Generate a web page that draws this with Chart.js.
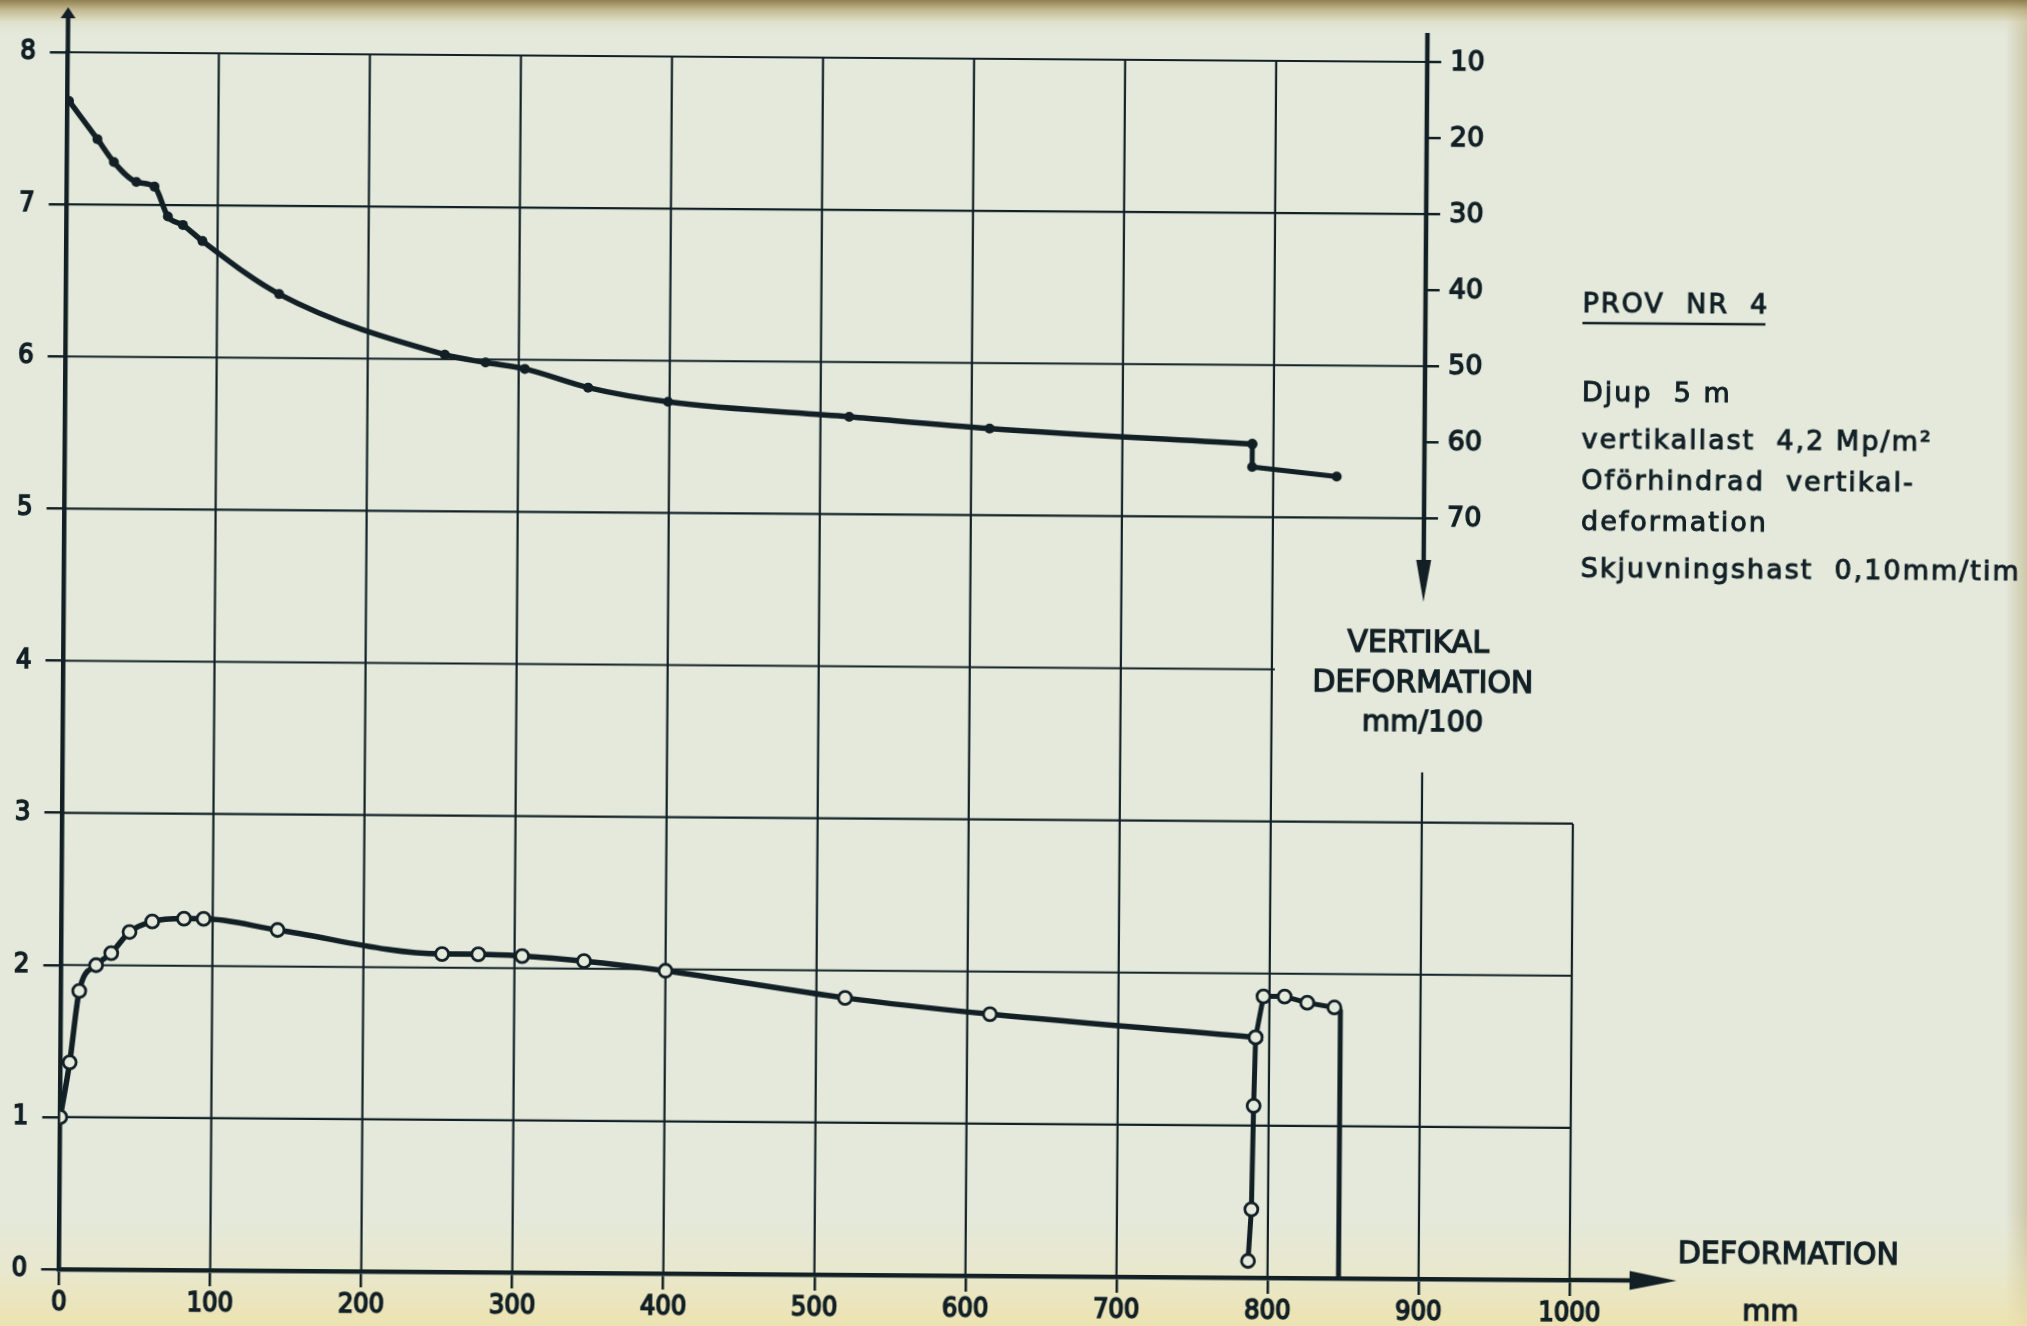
<!DOCTYPE html>
<html>
<head>
<meta charset="utf-8">
<script src="https://cdn.jsdelivr.net/npm/chart.js@4.4.1/dist/chart.umd.min.js"></script>
<style>
  html, body { margin: 0; padding: 0; overflow: hidden; }
  body {
    width: 2027px;
    height: 1326px;
    background:
      linear-gradient(to bottom, rgba(140,122,72,0.95) 0px, rgba(185,170,120,0.75) 10px, rgba(215,210,175,0.35) 22px, rgba(215,210,175,0) 34px),
      linear-gradient(to top, rgba(238,226,168,0.85) 0px, rgba(238,230,185,0.4) 55px, rgba(238,230,185,0) 115px),
      linear-gradient(to left, rgba(196,186,146,0.7) 0px, rgba(205,200,165,0) 22px),
      #e4e9dc;
  }
  #chart {
    position: absolute;
    left: 0;
    top: 0;
    transform: rotate(0.41deg);
    transform-origin: 1013px 663px;
  }
</style>
</head>
<body>
<canvas id="chart" width="2027" height="1326"></canvas>
<script>
const INK = "#122026";
const PAPER = "#e5eadd";
const NUM_FONT = "'DejaVu Sans Condensed', 'DejaVu Sans', sans-serif";
const TXT_FONT = "'DejaVu Sans', sans-serif";

// skjuvspanning (left axis), open circles
const stressX = [0, 6, 12, 23, 33, 45, 60, 81, 94, 143, 252, 276, 305, 346, 400, 519, 615, 791];
const stressY = [1.0, 1.36, 1.83, 2.0, 2.08, 2.22, 2.29, 2.31, 2.31, 2.24, 2.09, 2.09, 2.08, 2.05, 1.99, 1.82, 1.72, 1.58];

// reloading near 790 mm, then the drop at the end of the test
const reloadX = [787, 789, 790, 791, 796, 810, 825, 843, 847, 847];
const reloadY = [0.11, 0.45, 1.13, 1.58, 1.85, 1.85, 1.81, 1.78, 1.76, 0];

// vertikal deformation, mm/100 (right axis), filled dots
const vertX = [1, 20, 31, 46, 58, 67, 77, 90, 141, 251, 278, 304, 346, 399, 519, 612, 786];
const vertV = [16.4, 21.4, 24.4, 27.0, 27.6, 31.5, 32.6, 34.7, 41.6, 49.4, 50.4, 51.2, 53.6, 55.4, 57.2, 58.6, 60.4];
const stepX = [786, 786, 842];
const stepV = [60.4, 63.4, 64.6];

const rightTicks = [10, 20, 30, 40, 50, 60, 70];

const noteTitle = "PROV  NR  4";
const noteLines = [
  "Djup  5 m",
  "vertikallast  4,2 Mp/m²",
  "Oförhindrad  vertikal-",
  "deformation",
  "Skjuvningshast  0,10mm/tim",
];

function toPoints(xs, ys) {
  return xs.map((v, i) => ({ x: v, y: ys[i] }));
}

function line(ctx, x1, y1, x2, y2) {
  ctx.beginPath();
  ctx.moveTo(x1, y1);
  ctx.lineTo(x2, y2);
  ctx.stroke();
}

// fill plus a thin stroke, the scanned lettering is heavier than the plain face
function text(ctx, t, x, y) {
  ctx.fillText(t, x, y);
  ctx.strokeText(t, x, y);
}

function arrow(ctx, tipX, tipY, dir, len, half) {
  ctx.beginPath();
  if (dir === "up") {
    ctx.moveTo(tipX, tipY);
    ctx.lineTo(tipX - half, tipY + len);
    ctx.lineTo(tipX + half, tipY + len);
  } else if (dir === "down") {
    ctx.moveTo(tipX, tipY);
    ctx.lineTo(tipX - half, tipY - len);
    ctx.lineTo(tipX + half, tipY - len);
  } else {
    ctx.moveTo(tipX, tipY);
    ctx.lineTo(tipX - len, tipY - half);
    ctx.lineTo(tipX - len, tipY + half);
  }
  ctx.closePath();
  ctx.fill();
}

const paperPlugin = {
  id: "paper",
  beforeDatasetsDraw(chart) {
    const { ctx } = chart;
    const sx = chart.scales.x;
    const sy = chart.scales.y;
    const px = (v) => sx.getPixelForValue(v);
    const py = (v) => sy.getPixelForValue(v);

    ctx.save();
    ctx.strokeStyle = INK;
    ctx.lineWidth = 2.2;

    for (let v = 100; v <= 800; v += 100) line(ctx, px(v), py(0), px(v), py(8));
    line(ctx, px(900), py(0), px(900), py(3.33));
    line(ctx, px(1000), py(0), px(1000), py(3));

    for (const v of [1, 2, 3]) line(ctx, px(0), py(v), px(1000), py(v));
    line(ctx, px(0), py(4), px(800) + 3, py(4));
    for (const v of [5, 6, 7, 8]) line(ctx, px(0), py(v), px(900), py(v));
    ctx.restore();
  },
  afterDraw(chart) {
    const { ctx } = chart;
    const sx = chart.scales.x;
    const sy = chart.scales.y;
    const s2 = chart.scales.y2;
    const px = (v) => sx.getPixelForValue(v);
    const py = (v) => sy.getPixelForValue(v);

    ctx.save();
    ctx.strokeStyle = INK;
    ctx.fillStyle = INK;

    // arrow on the left axis
    ctx.lineWidth = 4.5;
    line(ctx, px(0), py(8), px(0), 24);
    arrow(ctx, px(0), 14, "up", 11, 7.5);

    // x axis runs on past 1000 to its arrow
    line(ctx, px(1000), py(0), 1636, py(0));
    arrow(ctx, 1681, py(0), "right", 47, 9.5);

    // right axis: vertical deformation, drawn on the 900 line
    const rx = px(900);
    const tipY = s2.getPixelForValue(81);
    line(ctx, rx, s2.getPixelForValue(6.2), rx, tipY - 38);
    arrow(ctx, rx, tipY, "down", 42, 7.5);

    ctx.lineWidth = 2.5;
    ctx.font = "27px " + TXT_FONT;
    ctx.textAlign = "left";
    ctx.textBaseline = "middle";
    for (const v of rightTicks) {
      const y = s2.getPixelForValue(v);
      line(ctx, rx, y, rx + 14, y);
    }
    ctx.lineWidth = 1.4;
    for (const v of rightTicks) {
      text(ctx, String(v), rx + 23, s2.getPixelForValue(v) + 1);
    }

    // axis titles
    ctx.font = "30px " + TXT_FONT;
    ctx.textAlign = "center";
    ctx.lineWidth = 1.3;
    text(ctx, "VERTIKAL", 1418, 641);
    text(ctx, "DEFORMATION", 1423, 681);
    ctx.font = "29px " + TXT_FONT;
    text(ctx, "mm/100", 1423, 720);

    ctx.textAlign = "left";
    ctx.font = "30px " + TXT_FONT;
    text(ctx, "DEFORMATION", 1682, 1250);
    ctx.textAlign = "center";
    ctx.font = "29px " + TXT_FONT;
    text(ctx, "mm", 1775, 1307);

    // test notes
    ctx.textAlign = "left";
    ctx.font = "27px " + TXT_FONT;
    ctx.letterSpacing = "2px";
    ctx.lineWidth = 1.0;
    text(ctx, noteTitle, 1580, 301);
    const rows = [390, 437, 478, 519, 566];
    noteLines.forEach((t, i) => text(ctx, t, 1580, rows[i]));
    ctx.lineWidth = 2.5;
    line(ctx, 1580, 319, 1763, 319);
    ctx.restore();
  },
};

const tickFont = { family: NUM_FONT, size: 27 };
const plainLabel = (value) => String(value);

const ctx = document.getElementById("chart").getContext("2d");

new Chart(ctx, {
  type: "line",
  data: {
    datasets: [
      {
        label: "skjuvspanning",
        data: toPoints(stressX, stressY),
        yAxisID: "y",
        borderColor: INK,
        borderWidth: 5.5,
        cubicInterpolationMode: "monotone",
        pointRadius: 6.5,
        pointBorderWidth: 2.8,
        pointBorderColor: INK,
        pointBackgroundColor: PAPER,
        borderCapStyle: "round",
        borderJoinStyle: "round",
        fill: false,
      },
      {
        label: "återbelastning",
        data: toPoints(reloadX, reloadY),
        yAxisID: "y",
        borderColor: INK,
        borderWidth: 5,
        tension: 0,
        pointRadius: reloadX.map((_, i) => (i < reloadX.length - 2 ? 6.5 : 0)),
        pointBorderWidth: 2.8,
        pointBorderColor: INK,
        pointBackgroundColor: PAPER,
        borderJoinStyle: "round",
        fill: false,
      },
      {
        label: "vertikal deformation",
        data: toPoints(vertX, vertV),
        yAxisID: "y2",
        borderColor: INK,
        borderWidth: 5.5,
        cubicInterpolationMode: "monotone",
        pointRadius: 5,
        pointBorderWidth: 0,
        pointBackgroundColor: INK,
        borderCapStyle: "round",
        fill: false,
      },
      {
        label: "vertikal deformation, steg",
        data: toPoints(stepX, stepV),
        yAxisID: "y2",
        borderColor: INK,
        borderWidth: 5,
        tension: 0,
        pointRadius: 5,
        pointBorderWidth: 0,
        pointBackgroundColor: INK,
        borderCapStyle: "round",
        borderJoinStyle: "round",
        fill: false,
      },
    ],
  },
  options: {
    responsive: false,
    animation: false,
    events: [],
    layout: {
      autoPadding: false,
      padding: { left: 0, top: 59, right: 453, bottom: 0 },
    },
    plugins: {
      legend: { display: false },
      tooltip: { enabled: false },
    },
    scales: {
      x: {
        type: "linear",
        position: "bottom",
        min: 0,
        max: 1000,
        ticks: {
          stepSize: 100,
          autoSkip: false,
          maxRotation: 0,
          padding: 2,
          color: INK,
          textStrokeColor: INK,
          textStrokeWidth: 1.6,
          font: tickFont,
          callback: plainLabel,
        },
        grid: { drawOnChartArea: false, drawTicks: true, tickLength: 16, color: INK, lineWidth: 2.5 },
        border: { display: true, color: INK, width: 4.5 },
        afterFit: (scale) => { scale.height = 50; },
      },
      y: {
        type: "linear",
        position: "left",
        min: 0,
        max: 8,
        ticks: {
          stepSize: 1,
          padding: 14,
          color: INK,
          textStrokeColor: INK,
          textStrokeWidth: 1.6,
          font: tickFont,
          callback: plainLabel,
        },
        grid: { drawOnChartArea: false, drawTicks: true, tickLength: 18, color: INK, lineWidth: 2.5 },
        border: { display: true, color: INK, width: 4.5 },
        afterFit: (scale) => { scale.width = 63.5; },
      },
      y2: {
        type: "linear",
        display: false,
        reverse: true,
        min: 10,
        max: 170,
      },
    },
  },
  plugins: [paperPlugin],
});
</script>
</body>
</html>
